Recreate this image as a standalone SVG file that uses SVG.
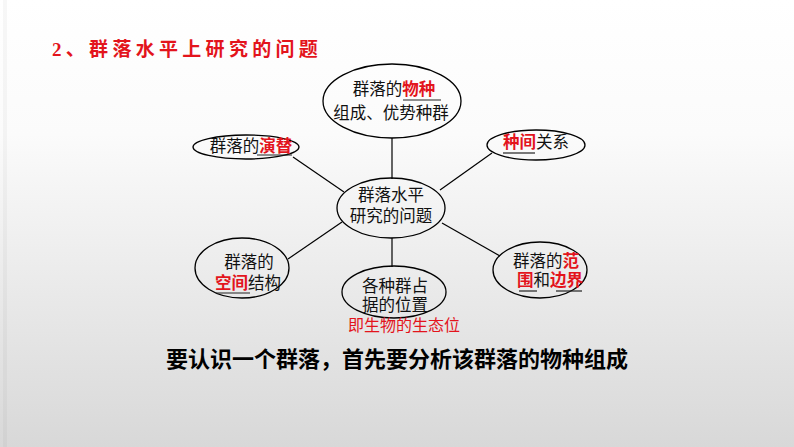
<svg xmlns="http://www.w3.org/2000/svg" width="794" height="447" viewBox="0 0 794 447">
<defs>
<linearGradient id="bg" x1="0" y1="0" x2="0" y2="1">
<stop offset="0" stop-color="#ffffff"/>
<stop offset="0.3" stop-color="#fbfbfb"/>
<stop offset="1" stop-color="#d8d8d8"/>
</linearGradient>
<style>
.node ellipse{fill:none;stroke:#000;stroke-width:1.3}
.t{font-family:"Noto Sans CJK SC","Noto Sans",sans-serif;font-size:16.5px;fill:#111}
.r{fill:#e3141c;font-weight:bold}
.ul{stroke:#222;stroke-width:1.2}
.conn line{stroke:#000;stroke-width:1.2}
</style>
</defs>
<rect width="794" height="447" fill="url(#bg)"/>
<rect x="3" y="0" width="4" height="447" fill="#000" opacity="0.03"/>
<text x="52" y="56" font-family="'Liberation Serif','Noto Sans CJK SC',serif" font-size="19" font-weight="bold" fill="#e3141c" letter-spacing="4.3">2、群落水平上研究的问题</text>
<g class="conn">
<line x1="392" y1="179" x2="392" y2="138"/>
<line x1="392" y1="238" x2="392" y2="267"/>
<line x1="344" y1="192" x2="293" y2="157"/>
<line x1="440" y1="190" x2="492" y2="153"/>
<line x1="342" y1="222" x2="288" y2="259"/>
<line x1="442" y1="223" x2="500" y2="256"/>
</g>
<g id="center" class="node">
<ellipse cx="391" cy="208" rx="54" ry="30"/>
<text class="t" x="391" y="201" text-anchor="middle">群落水平</text>
<text class="t" x="391" y="222" text-anchor="middle">研究的问题</text>
</g>
<g id="n-top" class="node">
<ellipse cx="392" cy="101" rx="69" ry="37"/>
<text class="t" x="394" y="95" text-anchor="middle">群落的<tspan class="r">物种</tspan></text>
<line class="ul" x1="403" y1="100" x2="441" y2="100"/>
<text class="t" x="391" y="119" text-anchor="middle">组成、优势种群</text>
</g>
<g id="n-yanti" class="node">
<ellipse cx="246" cy="147" rx="53" ry="12"/>
<text class="t" x="251" y="152" text-anchor="middle">群落的<tspan class="r">演替</tspan></text>
<line class="ul" x1="257" y1="155" x2="292" y2="155"/>
</g>
<g id="n-zhongjian" class="node">
<ellipse cx="536" cy="145" rx="49" ry="15"/>
<text class="t" x="536" y="148" text-anchor="middle"><tspan class="r">种间</tspan>关系</text>
<line class="ul" x1="503" y1="153" x2="535" y2="153"/>
</g>
<g id="n-kongjian" class="node">
<ellipse cx="242" cy="268" rx="47" ry="30"/>
<text class="t" x="249" y="268" text-anchor="middle">群落的</text>
<text class="t" x="248" y="289" text-anchor="middle"><tspan class="r">空间</tspan>结构</text>
<line class="ul" x1="216" y1="293" x2="250" y2="293"/>
</g>
<g id="n-weizhi" class="node">
<ellipse cx="394" cy="292" rx="52" ry="26"/>
<text class="t" x="395" y="292" text-anchor="middle">各种群占</text>
<text class="t" x="395" y="311" text-anchor="middle">据的位置</text>
<text x="404" y="331" text-anchor="middle" font-family="'Noto Sans CJK SC','Noto Sans',sans-serif" font-size="16" fill="#e3141c">即生物的生态位</text>
</g>
<g id="n-fanwei" class="node">
<ellipse cx="540" cy="270" rx="47" ry="28"/>
<text class="t" x="546" y="267" text-anchor="middle">群落的<tspan class="r">范</tspan></text>
<text class="t" x="550" y="286" text-anchor="middle"><tspan class="r">围</tspan>和<tspan class="r">边界</tspan></text>
<line class="ul" x1="519" y1="291" x2="537" y2="291"/>
<line class="ul" x1="556" y1="291" x2="582" y2="291"/>
</g>
<text x="397" y="367" text-anchor="middle" font-family="'Noto Sans CJK SC','Noto Sans',sans-serif" font-size="22" font-weight="bold" fill="#000">要认识一个群落，首先要分析该群落的物种组成</text>
</svg>
